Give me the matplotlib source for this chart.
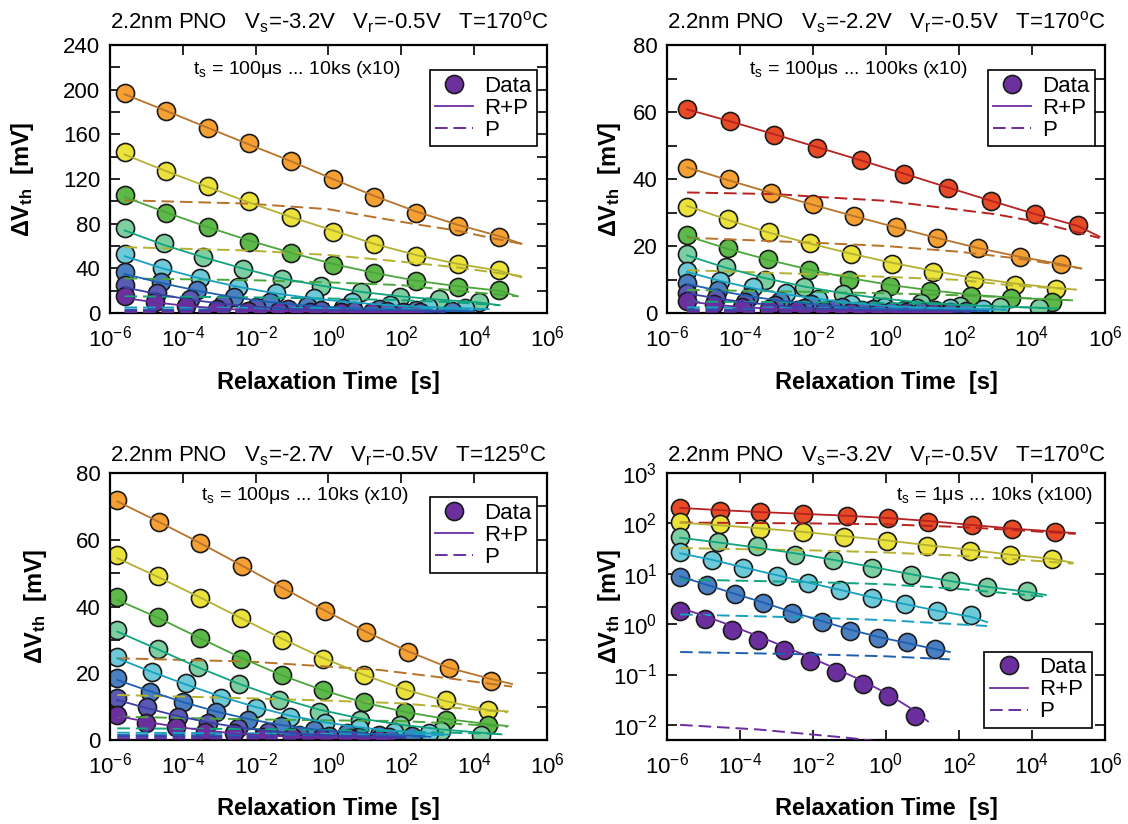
import numpy as np
import matplotlib
matplotlib.use("Agg")
import matplotlib.pyplot as plt
from matplotlib.lines import Line2D
from matplotlib.ticker import FixedLocator, MultipleLocator, NullLocator, LogFormatterMathtext

plt.rcParams['font.family'] = ['Liberation Sans', 'DejaVu Sans']
plt.rcParams['mathtext.fontset'] = 'custom'
plt.rcParams['mathtext.rm'] = 'Liberation Sans'
plt.rcParams['mathtext.it'] = 'Liberation Sans'
plt.rcParams['mathtext.bf'] = 'Liberation Sans:bold'
plt.rcParams['axes.unicode_minus'] = False

# marker fill / line colours per series
FILL = {'purple': '#6b2f9e', 'indigo': '#5a5ab4', 'blue': '#4a7fc1', 'cyan': '#6ecad8',
        'mint': '#7dcfa2', 'green': '#5db94a', 'yellow': '#ebe23c', 'orange': '#f4a033',
        'red': '#e84a26'}
LINE = {'purple': '#6a2d9f', 'indigo': '#3b3fa5', 'blue': '#1f5fb0', 'cyan': '#17a0bf',
        'mint': '#11a37d', 'green': '#4aa63a', 'yellow': '#b4b032', 'orange': '#b8732a',
        'red': '#b52220'}
DASH = (6.5, 3)

# ---------------- top left: Vs=-3.2V, T=170C (log10 of relaxation time) ----------------
tl_names = ['orange', 'yellow', 'green', 'mint', 'cyan', 'blue', 'indigo', 'purple']
tl_t = [[-5.6, -4.45, -3.32, -2.18, -1.03, 0.12, 1.25, 2.4, 3.55, 4.68],
        [-5.6, -4.45, -3.32, -2.18, -1.03, 0.12, 1.25, 2.4, 3.55, 4.68],
        [-5.6, -4.45, -3.32, -2.18, -1.03, 0.12, 1.25, 2.4, 3.55, 4.68],
        [-5.6, -4.52, -3.44, -2.36, -1.28, -0.2, 0.88, 1.96, 3.04, 4.12],
        [-5.6, -4.56, -3.52, -2.48, -1.44, -0.4, 0.64, 1.68, 2.72, 3.76],
        [-5.6, -4.6, -3.6, -2.6, -1.6, -0.6, 0.4, 1.4, 2.4, 3.4],
        [-5.6, -4.7, -3.8, -2.9, -2.0, -1.1, -0.2, 0.7, 1.6, 2.5],
        [-5.6, -4.75, -3.9, -3.05, -2.2, -1.35, -0.5, 0.35, 1.2, 2.05]]
tl_dv = [[197, 181, 166, 152, 136, 120, 104, 90, 78, 68],
         [144, 127, 114, 100, 86, 73, 62, 51, 44, 38.5],
         [106, 90, 77, 64, 54, 43, 36, 29, 23.5, 20.6],
         [76, 62.5, 50, 39.5, 30.5, 24, 19, 14.5, 12.5, 10],
         [53, 40, 31, 23, 17.5, 13.5, 9.5, 7, 5.5, 4.5],
         [37, 28, 20.5, 14, 9.5, 6.5, 4.5, 3.5, 2.5, 2],
         [25, 18, 12.3, 8, 5.5, 3.8, 2.8, 2, 1.5, 1.2],
         [15, 10, 6.3, 3.5, 2.2, 1.5, 1.1, 0.9, 0.7, 0.6]]
tl_fit = [[196, 181, 166, 151, 136, 120, 105, 91, 79, 69, 62],
          [142, 127, 113, 99, 86, 74, 62, 52, 44, 38, 32],
          [104, 90, 77, 65, 54, 44, 36, 29, 24, 20, 15],
          [74, 61, 50, 40, 31, 24.5, 19, 15, 12, 9.5, 7],
          [51, 40, 31, 23.5, 17.5, 13, 9.5, 7, 5.3, 4.3, 3.5],
          [35, 27, 20, 14, 9.8, 6.7, 4.7, 3.5, 2.6, 2, 1.6],
          [23, 17, 12, 8.2, 5.6, 3.9, 2.8, 2.1, 1.6, 1.3, 1.1],
          [13.5, 9.5, 6.4, 4.1, 2.7, 1.8, 1.3, 1, 0.8, 0.7, 0.6]]
tl_fit_end = [5.3, 5.3, 5.2, 4.7, 4.4, 4.0, 3.2, 2.6]
tl_p_t = [[-5.6, -2.2, 0, 1.4, 2.5, 3.5, 4.5, 5.3],
          [-5.6, -2.2, 0, 2, 3.5, 5.3],
          [-5.6, -2.2, 0, 2, 3.5, 5.2],
          [-5.6, -2, 0, 2, 3.5, 4.7],
          [-5.6, -2, 0, 2, 4.4],
          [-5.6, -2, 0, 2, 4.0],
          [-5.6, -2, 0, 3.2],
          [-5.6, -2, 0, 2.6]]
tl_p = [[101, 98, 93, 85, 79, 74, 67, 62],
        [59, 56, 52, 46, 41, 33],
        [31, 29.5, 27.5, 25, 20, 15],
        [15, 14, 13, 11.5, 9.5, 7],
        [5, 4.8, 4.5, 4, 3.5],
        [3, 2.9, 2.7, 2.3, 1.6],
        [2, 1.9, 1.7, 1.1],
        [1, 0.9, 0.8, 0.6]]

# ---------------- top right: Vs=-2.2V, T=170C ----------------
tr_names = ['red', 'orange', 'yellow', 'green', 'mint', 'cyan', 'blue', 'indigo', 'purple']
tr_t = [[-5.45, -4.26, -3.07, -1.88, -0.69, 0.5, 1.69, 2.88, 4.07, 5.26],
        [-5.45, -4.3, -3.15, -2.0, -0.87, 0.27, 1.4, 2.53, 3.66, 4.79],
        [-5.45, -4.33, -3.2, -2.07, -0.95, 0.17, 1.29, 2.41, 3.54, 4.66],
        [-5.45, -4.34, -3.23, -2.12, -1.01, 0.1, 1.21, 2.32, 3.43, 4.54],
        [-5.45, -4.38, -3.31, -2.24, -1.17, -0.1, 0.97, 2.04, 3.11, 4.18],
        [-5.45, -4.55, -3.65, -2.75, -1.85, -0.95, -0.05, 0.85, 1.75, 2.65],
        [-5.45, -4.6, -3.75, -2.9, -2.05, -1.2, -0.35, 0.5, 1.35, 2.2],
        [-5.45, -4.65, -3.85, -3.05, -2.25, -1.45, -0.65, 0.15, 0.95, 1.75],
        [-5.45, -4.7, -3.95, -3.2, -2.45, -1.7, -0.95, -0.2, 0.55, 1.3]]
tr_dv = [[61, 57.3, 53.3, 49.4, 45.7, 41.5, 37.3, 33.4, 29.7, 26.3],
         [43.2, 39.9, 35.9, 32.5, 29, 25.8, 22.3, 19.3, 16.6, 14.6],
         [31.7, 28, 24.3, 20.8, 17.6, 14.6, 12.3, 10, 8.4, 7.2],
         [23.3, 19.3, 16, 12.8, 10, 8, 6.7, 5.1, 4.4, 3.4],
         [17.6, 13.8, 9.9, 7.9, 5.7, 4.1, 2.9, 2.0, 1.8, 1.5],
         [12.6, 9.6, 7.7, 5.9, 4.1, 2.7, 1.9, 1.4, 1.5, 1.2],
         [8.9, 6.9, 4.9, 3.7, 2.6, 1.8, 1.3, 1.0, 0.8, 0.7],
         [6.1, 4.5, 3.3, 2.3, 1.6, 1.1, 0.8, 0.6, 0.5, 0.4],
         [3.7, 2.6, 1.8, 1.2, 0.8, 0.6, 0.4, 0.3, 0.3, 0.2]]
tr_fit = [[60.8, 57.2, 53.4, 49.5, 45.6, 41.6, 37.5, 33.5, 29.6, 26, 22.8],
          [43.5, 39.6, 35.9, 32.3, 28.9, 25.6, 22.4, 19.4, 16.8, 14.6, 13.3],
          [32, 27.8, 24, 20.7, 17.7, 15, 12.6, 10.5, 8.8, 7.5, 7.0],
          [23, 19.2, 15.9, 13, 10.5, 8.4, 6.8, 5.5, 4.6, 4.0, 3.8],
          [17.2, 13.5, 10.4, 7.9, 5.9, 4.3, 3.2, 2.4, 1.9, 1.6, 1.3],
          [12.3, 9.6, 7.4, 5.6, 4.2, 3.0, 2.2, 1.7, 1.4, 1.2, 1.0],
          [8.7, 6.7, 5.0, 3.7, 2.7, 1.9, 1.4, 1.1, 0.9, 0.75, 0.6],
          [5.9, 4.4, 3.2, 2.3, 1.6, 1.2, 0.9, 0.7, 0.55, 0.45, 0.4],
          [3.5, 2.5, 1.8, 1.3, 0.9, 0.65, 0.48, 0.36, 0.29, 0.24, 0.2]]
tr_fit_end = [5.85, 5.35, 5.2, 5.1, 4.7, 3.3, 2.8, 2.3, 1.8]
tr_p_t = [[-5.45, -3, -1.9, 0, 1.5, 3, 4.1, 5.85],
          [-5.45, -2, 0, 2, 3.6, 5.35],
          [-5.45, -2, 0, 2, 3.5, 5.2],
          [-5.45, -2, 0, 2, 3.5, 5.1],
          [-5.45, -2, 0, 2, 4.7],
          [-5.45, -2, 0, 3.3],
          [-5.45, -2, 0, 2.8],
          [-5.45, -2, 2.3],
          [-5.45, -2, 1.8]]
tr_p = [[36, 35.5, 34.7, 33.5, 31.5, 29.5, 27.3, 22.4],
        [22.5, 21, 20, 18.3, 16.3, 13.3],
        [12.8, 11.6, 10.8, 9.9, 8.2, 7.0],
        [6.9, 6.3, 5.9, 5.3, 4.6, 3.8],
        [3.4, 3.2, 3.0, 2.5, 1.3],
        [1.7, 1.6, 1.5, 1.0],
        [1.1, 1.0, 0.95, 0.6],
        [0.7, 0.65, 0.4],
        [0.4, 0.35, 0.2]]

# ---------------- bottom left: Vs=-2.7V, T=125C ----------------
bl_names = ['orange', 'yellow', 'green', 'mint', 'cyan', 'blue', 'indigo', 'purple']
bl_t = [[-5.8, -4.66, -3.52, -2.38, -1.24, -0.1, 1.04, 2.18, 3.32, 4.46],
        [-5.8, -4.67, -3.54, -2.41, -1.28, -0.15, 0.98, 2.11, 3.24, 4.37],
        [-5.8, -4.67, -3.54, -2.41, -1.28, -0.15, 0.98, 2.11, 3.24, 4.37],
        [-5.8, -4.69, -3.58, -2.47, -1.36, -0.25, 0.86, 1.97, 3.08, 4.19],
        [-5.8, -4.85, -3.9, -2.95, -2.0, -1.05, -0.1, 0.85, 1.8, 2.75],
        [-5.8, -4.9, -4.0, -3.1, -2.2, -1.3, -0.4, 0.5, 1.4, 2.3],
        [-5.8, -4.97, -4.14, -3.31, -2.48, -1.65, -0.82, 0.01, 0.84, 1.67],
        [-5.8, -5.0, -4.2, -3.4, -2.6, -1.8, -1.0, -0.2, 0.6, 1.4]]
bl_dv = [[71.9, 65.4, 59.1, 52.1, 45.2, 38.7, 32.3, 26.3, 21.5, 17.8],
         [55.4, 49.1, 42.7, 36.5, 30, 24.3, 19.5, 15, 12, 9],
         [42.9, 36.8, 30.5, 24.3, 19.5, 15, 11.5, 8.5, 6, 4.5],
         [33, 27.4, 22, 16.7, 12, 8.5, 6, 4.5, 2.8, 1.5],
         [25, 20.5, 17.2, 12.5, 9.5, 7, 5, 3.5, 2.5, 2],
         [18.5, 14.5, 11.3, 8.5, 6, 4.2, 3, 2, 1.5, 1.2],
         [12.5, 10, 7, 5, 3.5, 2.5, 1.5, 1.2, 1, 0.8],
         [7.5, 5, 4, 2.5, 2, 1, 0.8, 0.6, 0.5, 0.4]]
bl_fit = [[71.5, 65.4, 59, 52.3, 45.5, 38.8, 32.4, 26.6, 21.6, 18.3, 16.8],
          [54.5, 48.8, 42.8, 36.6, 30.4, 24.6, 19.5, 15.1, 11.6, 9, 8.6],
          [42, 36.6, 30.6, 24.7, 19.4, 14.9, 11.2, 8.4, 6.3, 4.8, 4.2],
          [32.5, 27.2, 21.8, 16.9, 12.6, 9.1, 6.5, 4.6, 3.2, 2.2, 1.7],
          [24.5, 20.4, 16.6, 13, 9.9, 7.3, 5.3, 3.8, 2.7, 2.0, 1.6],
          [18, 14.6, 11.4, 8.6, 6.3, 4.5, 3.2, 2.3, 1.7, 1.3, 1.0],
          [12, 9.5, 7.2, 5.3, 3.8, 2.7, 1.9, 1.4, 1.1, 0.9, 0.7],
          [7.2, 5.5, 4.0, 2.9, 2.0, 1.4, 1.0, 0.75, 0.55, 0.45, 0.35]]
bl_fit_end = [5.04, 4.92, 4.92, 4.75, 3.3, 2.8, 2.1, 1.8]
bl_p_t = [[-5.8, -2.15, 0, 1.4, 2.0, 3.3, 5.04],
          [-5.8, -2.15, 0, 2, 3.3, 4.92],
          [-5.8, -2.15, 0, 2, 3.3, 4.92],
          [-5.8, -2, 0, 2, 4.75],
          [-5.8, -2, 0, 3.3],
          [-5.8, -2, 0, 2.8],
          [-5.8, -2, 2.1],
          [-5.8, -2, 1.8]]
bl_p = [[24.5, 23.5, 22, 21, 20.2, 18.5, 16],
        [13.5, 12.5, 11.8, 11, 9.8, 8.3],
        [7, 6.2, 5.9, 5.7, 5, 4],
        [3.5, 3.3, 3.0, 2.6, 1.8],
        [2.2, 2.0, 1.9, 1.5],
        [1.5, 1.4, 1.3, 1.0],
        [1.0, 0.9, 0.7],
        [0.5, 0.45, 0.35]]

# ---------------- bottom right: Vs=-3.2V, T=170C, log scale ----------------
br_names = ['red', 'yellow', 'mint', 'cyan', 'blue', 'purple']
br_t = [[-5.64, -4.55, -3.45, -2.27, -1.07, 0.05, 1.15, 2.36, 3.45, 4.63],
        [-5.64, -4.55, -3.45, -2.27, -1.15, 0.03, 1.12, 2.3, 3.4, 4.55],
        [-5.64, -4.6, -3.53, -2.49, -1.45, -0.38, 0.68, 1.75, 2.77, 3.86],
        [-5.64, -4.77, -3.92, -2.99, -2.14, -1.26, -0.38, 0.52, 1.4, 2.33],
        [-5.64, -4.9, -4.14, -3.37, -2.58, -1.75, -0.99, -0.22, 0.58, 1.34],
        [-5.64, -4.96, -4.22, -3.51, -2.79, -2.08, -1.37, -0.63, 0.05, 0.79]]
br_dv = [[200, 180, 166, 155, 143, 131, 109, 91, 77, 69],
         [106, 98, 77, 69, 54, 44, 36, 28.7, 24, 19.7],
         [53.6, 42.7, 34.9, 24, 18.5, 13.1, 9.3, 7.1, 5.5, 4.5],
         [26.6, 19.1, 13.1, 9.2, 6.6, 4.7, 3.3, 2.5, 1.8, 1.5],
         [8.7, 6.1, 3.9, 2.66, 1.69, 1.1, 0.73, 0.54, 0.44, 0.32],
         [1.82, 1.24, 0.76, 0.485, 0.31, 0.187, 0.11, 0.065, 0.038, 0.0153]]
br_fit = [[203, 184, 168, 155, 142, 128, 112, 93, 79, 69, 64],
          [103, 92, 80, 68, 56, 46, 37, 30, 24, 19.8, 16.6],
          [52, 42, 33, 25.5, 19, 13.7, 9.8, 7.2, 5.5, 4.4, 3.8],
          [25.5, 19, 13.5, 9.4, 6.7, 4.8, 3.4, 2.5, 1.85, 1.4, 1.1],
          [8.9, 6.0, 4.0, 2.7, 1.75, 1.15, 0.78, 0.56, 0.42, 0.32, 0.28],
          [2.1, 1.45, 0.92, 0.58, 0.36, 0.22, 0.13, 0.074, 0.041, 0.019, 0.0117]]
br_fit_end = [5.18, 5.12, 4.38, 2.77, 1.75, 1.15]
br_p_t = [[-5.64, -2, 0, 2, 3.5, 5.18],
          [-5.64, -1.9, 0, 2.0, 3.5, 5.12],
          [-5.64, -1.9, 0, 2.0, 4.38],
          [-5.64, -1.9, 0, 2.77],
          [-5.64, -1.9, 0, 1.75],
          [-5.64, -3.5, -1.0, 0, 1.15]]
br_p = [[104, 100, 96, 85, 74, 62],
        [32.4, 29, 26.5, 22.9, 19.5, 15.9],
        [7.7, 6.8, 6.2, 5.0, 3.5],
        [1.56, 1.34, 1.2, 0.92],
        [0.28, 0.25, 0.23, 0.20],
        [0.01, 0.0081, 0.0055, 0.0045, 0.0035]]

titles = [r'2.2nm PNO   V$_s$=-3.2V   V$_r$=-0.5V   T=170$^o$C',
          r'2.2nm PNO   V$_s$=-2.2V   V$_r$=-0.5V   T=170$^o$C',
          r'2.2nm PNO   V$_s$=-2.7V   V$_r$=-0.5V   T=125$^o$C',
          r'2.2nm PNO   V$_s$=-3.2V   V$_r$=-0.5V   T=170$^o$C']
notes = [r't$_s$ = 100μs ... 10ks (x10)', r't$_s$ = 100μs ... 100ks (x10)',
         r't$_s$ = 100μs ... 10ks (x10)', r't$_s$ = 1μs ... 10ks (x100)']


def draw(ax, names, t, dv, fit, fit_end, p_t, p_v):
    for i, c in enumerate(names):
        x = 10.0 ** np.array(t[i])
        ax.plot(x, dv[i], 'o', ms=13, mfc=FILL[c], mec='#1a1a1a', mew=1.2, zorder=2)
        xf = 10.0 ** np.array(t[i] + [fit_end[i]])
        ax.plot(xf, fit[i], '-', color=LINE[c], lw=1.3, zorder=3)
        ax.plot(10.0 ** np.array(p_t[i]), p_v[i], color=LINE[c], lw=1.4,
                ls='--', dashes=DASH, zorder=3)


fig = plt.figure(figsize=(11.28, 8.24), dpi=100)
pos = [[0.0975, 0.6201, 0.3874, 0.3252], [0.5913, 0.6201, 0.3883, 0.3252],
       [0.0975, 0.1019, 0.3874, 0.3240], [0.5913, 0.1019, 0.3883, 0.3240]]
data = [(tl_names, tl_t, tl_dv, tl_fit, tl_fit_end, tl_p_t, tl_p),
        (tr_names, tr_t, tr_dv, tr_fit, tr_fit_end, tr_p_t, tr_p),
        (bl_names, bl_t, bl_dv, bl_fit, bl_fit_end, bl_p_t, bl_p),
        (br_names, br_t, br_dv, br_fit, br_fit_end, br_p_t, br_p)]
note_x = [0.428, 0.436, 0.446, 0.747]
ylab_x = [-0.17, -0.10, -0.14, -0.10]
title_pad = [12, 12, 8, 8]

for k in range(4):
    ax = fig.add_axes(pos[k])
    draw(ax, *data[k])
    ax.set_xscale('log')
    ax.set_xlim(1e-6, 1e6)
    ax.xaxis.set_major_locator(FixedLocator([1e-6, 1e-4, 1e-2, 1, 1e2, 1e4, 1e6]))
    ax.xaxis.set_minor_locator(NullLocator())
    ax.xaxis.set_major_formatter(LogFormatterMathtext())
    if k == 0:
        ax.set_ylim(0, 240)
        ax.yaxis.set_major_locator(MultipleLocator(40))
        ax.yaxis.set_minor_locator(MultipleLocator(20))
    elif k in (1, 2):
        ax.set_ylim(0, 80)
        ax.yaxis.set_major_locator(MultipleLocator(20))
        ax.yaxis.set_minor_locator(MultipleLocator(10))
    else:
        ax.set_yscale('log')
        ax.set_ylim(0.005, 1000)
        ax.yaxis.set_major_locator(FixedLocator([1e-2, 1e-1, 1, 10, 100, 1000]))
        ax.yaxis.set_minor_locator(NullLocator())
        ax.yaxis.set_major_formatter(LogFormatterMathtext())
    ax.tick_params(which='both', direction='in', top=True, right=True, width=1.2,
                   length=7, labelsize=16)
    ax.tick_params(axis='x', pad=9)
    ax.tick_params(axis='y', pad=7)
    for s in ax.spines.values():
        s.set_linewidth(1.6)

    ax.set_title(titles[k], loc='left', fontsize=16, pad=title_pad[k])
    ax.text(note_x[k], 0.91 if k < 2 else 0.915, notes[k], transform=ax.transAxes,
            ha='center', va='center', fontsize=14)
    ax.set_xlabel('Relaxation Time  [s]', fontsize=17, fontweight='bold')
    ax.xaxis.set_label_coords(0.5, -0.215)
    ax.set_ylabel(r'ΔV$_\mathbf{th}$  [mV]', fontsize=17, fontweight='bold')
    ax.yaxis.set_label_coords(ylab_x[k], 0.5)

    handles = [Line2D([], [], marker='o', ls='none', ms=13, mfc=FILL['purple'], mec='#1a1a1a', mew=1.2),
               Line2D([], [], color=LINE['purple'], lw=1.3),
               Line2D([], [], color=LINE['purple'], lw=1.4, ls='--', dashes=DASH)]
    if k < 3:
        loc, anchor = 'upper right', (0.977, 0.907 if k < 2 else 0.91)
    else:
        loc, anchor = 'lower right', (0.970, 0.045)
    leg = ax.legend(handles, ['Data', 'R+P', 'P'], loc=loc, bbox_to_anchor=anchor,
                    fontsize=16, fancybox=False, edgecolor='k', framealpha=1,
                    borderpad=0.25, labelspacing=0.05, handlelength=1.7,
                    handletextpad=0.5, borderaxespad=0)
    leg.get_frame().set_linewidth(1.2)
    leg.set_zorder(5)

fig.savefig('out.png', dpi=100)
